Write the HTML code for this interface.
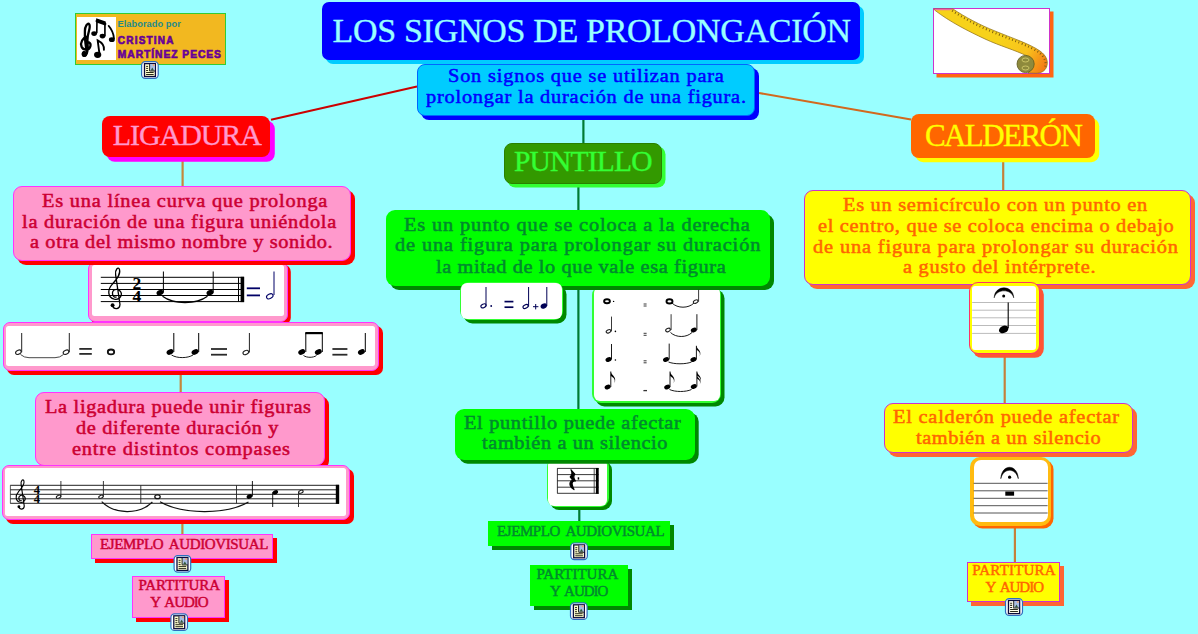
<!DOCTYPE html>
<html><head><meta charset="utf-8"><title>Los signos de prolongación</title>
<style>
html,body{margin:0;padding:0;}body{width:1198px;height:634px;background:#99FFFF;position:relative;overflow:hidden;font-family:'Liberation Serif', serif;}
.b{position:absolute;box-sizing:border-box;}
.t{position:absolute;white-space:pre;line-height:1;}
svg{position:absolute;left:0;top:0;}
</style></head><body>
<svg width="1198" height="634" style="z-index:1">
<line x1="417" y1="86.5" x2="271" y2="119.8" stroke="#CC0000" stroke-width="2"/>
<line x1="759" y1="93" x2="911" y2="119.6" stroke="#D2691E" stroke-width="2"/>
<line x1="583.4" y1="118" x2="583.4" y2="144" stroke="#007A33" stroke-width="2.2"/>
<line x1="578.4" y1="186" x2="578.4" y2="211" stroke="#007A33" stroke-width="2.2"/>
<line x1="578.4" y1="286" x2="578.4" y2="409" stroke="#007A33" stroke-width="2.2"/>
<line x1="579.3" y1="507" x2="579.3" y2="522" stroke="#007A33" stroke-width="2.2"/>
<line x1="182.6" y1="160" x2="182.6" y2="187" stroke="#C4883C" stroke-width="2.2"/>
<line x1="180.7" y1="370" x2="180.7" y2="393" stroke="#C4883C" stroke-width="2.2"/>
<line x1="182.4" y1="521" x2="182.4" y2="535" stroke="#C4883C" stroke-width="2.2"/>
<line x1="1003.2" y1="160" x2="1003.2" y2="190" stroke="#C4803A" stroke-width="2.2"/>
<line x1="1004.7" y1="356" x2="1004.7" y2="403" stroke="#C4803A" stroke-width="2.2"/>
<line x1="1014.9" y1="528" x2="1014.9" y2="562" stroke="#C4803A" stroke-width="2.2"/>
</svg>
<div class="b" id="title" style="left:322px;top:1.8px;width:538px;height:58.5px;background:#0000FF;border-radius:7px;box-shadow:4px 4px 0 #00CCFF;z-index:5"></div>
<div class="b" id="sub" style="left:417px;top:64px;width:338px;height:52px;background:#00CCFF;border:1px solid #0066FF;border-radius:8px;box-shadow:4px 4px 0 #0000FF;z-index:6"></div>
<div class="b" id="lig" style="left:102.3px;top:116px;width:168.2px;height:41px;background:#FF0000;border-radius:8px;box-shadow:4.8px 4.8px 0 #FF00FF;z-index:5"></div>
<div class="b" id="pun" style="left:504.3px;top:143.2px;width:157.7px;height:41.2px;background:#339900;border:1px solid #2A8000;border-radius:8px;box-shadow:3.5px 3.5px 0 #33FF33;z-index:5"></div>
<div class="b" id="cal" style="left:911px;top:113.5px;width:183.8px;height:44.5px;background:#FF6600;border-radius:8px;box-shadow:4.2px 4.2px 0 #FFFF00;z-index:5"></div>
<div class="b" id="pk1" style="left:13.4px;top:186.2px;width:337.8px;height:75.0px;background:#FF99CC;border:1px solid #FF33FF;border-radius:9px;box-shadow:4px 4px 0 #FF0000;z-index:5"></div>
<div class="b" id="gr1" style="left:386.2px;top:210px;width:383.8px;height:75.6px;background:#00FF00;border-radius:9px;box-shadow:4px 4px 0 #008800;z-index:5"></div>
<div class="b" id="ye1" style="left:803.7px;top:189.5px;width:387.8px;height:95.5px;background:#FFFF00;border:1px solid #CC33CC;border-radius:9px;box-shadow:4px 4px 0 #FF6633;z-index:5"></div>
<div class="b" id="pk2" style="left:34.8px;top:391.8px;width:290.2px;height:74.2px;background:#FF99CC;border:1px solid #FF33FF;border-radius:9px;box-shadow:4px 4px 0 #FF0000;z-index:5"></div>
<div class="b" id="gr2" style="left:455.3px;top:408.5px;width:239.4px;height:51.5px;background:#00FF00;border-radius:9px;box-shadow:3.7px 3.7px 0 #008800;z-index:7"></div>
<div class="b" id="ye2" style="left:883.6px;top:402.6px;width:249.4px;height:50.4px;background:#FFFF00;border:1px solid #CC33CC;border-radius:9px;box-shadow:4px 4px 0 #FF6633;z-index:5"></div>
<div class="b" id="pkE" style="left:91px;top:534px;width:181.7px;height:25px;background:#FF99CC;border:1px solid #FF33FF;border-radius:0px;box-shadow:4px 4px 0 #FF0000;z-index:5"></div>
<div class="b" id="pkP" style="left:132.3px;top:576px;width:93.2px;height:41.5px;background:#FF99CC;border:1px solid #FF33FF;border-radius:0px;box-shadow:4px 4px 0 #FF0000;z-index:5"></div>
<div class="b" id="grE" style="left:488px;top:521.3px;width:182px;height:25.0px;background:#00FF00;border-radius:0px;box-shadow:4px 4px 0 #008800;z-index:5"></div>
<div class="b" id="grP" style="left:530.2px;top:565px;width:97.6px;height:41.4px;background:#00FF00;border-radius:0px;box-shadow:4px 4px 0 #008800;z-index:5"></div>
<div class="b" id="yeP" style="left:967px;top:561.6px;width:93.3px;height:40.8px;background:#FFFF00;border:1px solid #CC33CC;border-radius:0px;box-shadow:4px 4px 0 #FF6633;z-index:5"></div>
<div class="b" style="left:88.3px;top:262px;width:199.9px;height:59.8px;background:#FF99CC;border:1px solid #FF33FF;border-radius:7px;box-shadow:2.8px 2.8px 0 #FF0000;z-index:4"></div>
<div class="b" style="left:91.8px;top:265.4px;width:191.8px;height:51.1px;background:#fff;border-radius:2.5px;z-index:4"></div>
<div class="b" style="left:2.5px;top:322.2px;width:376.5px;height:48.6px;background:#FF99CC;border:1px solid #FF33FF;border-radius:7px;box-shadow:4px 4px 0 #FF0000;z-index:6"></div>
<div class="b" style="left:5.8px;top:325.5px;width:369.7px;height:40.5px;background:#fff;border-radius:2.5px;z-index:6"></div>
<div class="b" style="left:1.5px;top:464.5px;width:348.0px;height:55.7px;background:#FF99CC;border:1px solid #FF33FF;border-radius:7px;box-shadow:4px 4px 0 #FF0000;z-index:6"></div>
<div class="b" style="left:4.8px;top:467.8px;width:341.2px;height:48.2px;background:#fff;border-radius:2.5px;z-index:6"></div>
<div class="b" style="left:459.8px;top:282.2px;width:103.2px;height:37.8px;background:#33FF33;border-radius:9px;box-shadow:3.5px 3.5px 0 #008800;z-index:6"></div>
<div class="b" style="left:461px;top:283.3px;width:100.8px;height:35.5px;background:#fff;border-radius:6px;z-index:6"></div>
<div class="b" style="left:592.2px;top:286px;width:128.8px;height:116.5px;background:#33FF33;border-radius:9px;box-shadow:3.5px 3.5px 0 #008800;z-index:4"></div>
<div class="b" style="left:593.7px;top:287px;width:126.1px;height:114px;background:#fff;border-radius:6px;z-index:4"></div>
<div class="b" style="left:547px;top:458px;width:61.5px;height:48.8px;background:#33FF33;border-radius:9px;box-shadow:3px 3px 0 #008800;z-index:4"></div>
<div class="b" style="left:548.2px;top:458.7px;width:59.2px;height:47.0px;background:#fff;border-radius:6px;z-index:4"></div>
<div class="b" style="left:968.6px;top:282px;width:71.6px;height:72.2px;background:#FFFF00;border:1px solid #FF3366;border-radius:9px;box-shadow:3.8px 3.8px 0 #FF5533;z-index:6"></div>
<div class="b" style="left:972.2px;top:286.2px;width:64.0px;height:64.0px;background:#fff;border-radius:3px;z-index:6"></div>
<div class="b" style="left:970px;top:456.5px;width:81.3px;height:69.9px;background:#FFBB11;border-radius:10px;box-shadow:2.5px 2.5px 0 #FF6600;z-index:6"></div>
<div class="b" style="left:973.6px;top:460.4px;width:74.0px;height:62.1px;background:#fff;border-radius:7px;z-index:6"></div>
<div class="b" style="left:933px;top:8px;width:117px;height:66px;background:#fff;border:1px solid #CC33CC;box-shadow:3.5px 3.5px 0 #FF6611;z-index:4"></div>
<div class="b" style="left:75.3px;top:13.3px;width:150.3px;height:52.2px;background:#F2B820;border:1px solid #33CC33;z-index:4"></div>
<div class="b" style="left:77.3px;top:17.3px;width:38.7px;height:42.7px;background:#fff;z-index:4"></div>
<svg width="1198" height="634" style="z-index:10">
<line x1="100.8" y1="277.3" x2="244" y2="277.3" stroke="#000" stroke-width="1"/>
<line x1="100.8" y1="283.4" x2="244" y2="283.4" stroke="#000" stroke-width="1"/>
<line x1="100.8" y1="289.5" x2="244" y2="289.5" stroke="#000" stroke-width="1"/>
<line x1="100.8" y1="295.5" x2="244" y2="295.5" stroke="#000" stroke-width="1"/>
<line x1="100.8" y1="301.6" x2="244" y2="301.6" stroke="#000" stroke-width="1"/>
<g transform="translate(106.5 267) scale(0.435)" fill="none" stroke="#000" stroke-width="2.9885057471264367" stroke-linecap="round"><path d="M14 88 C16 98 30 99 31 86 L21 18 C19 6 27 -2 30 6 C33 18 22 30 13 40 C2 52 2 70 18 74 C32 77 38 62 31 55 C24 48 12 52 14 63 C15 68 19 70 22 69"/><circle cx="14" cy="88" r="4.5" fill="#000" stroke="none"/></g>
<text x="136.8" y="289.4" font-family="Liberation Serif" font-weight="bold" font-size="17.5" fill="#000" text-anchor="middle">2</text>
<text x="136.8" y="301.6" font-family="Liberation Serif" font-weight="bold" font-size="17.5" fill="#000" text-anchor="middle">4</text>
<ellipse cx="160" cy="292.7" rx="3.6" ry="2.6" fill="#000" transform="rotate(-25 160 292.7)"/>
<line x1="163.4" y1="271.5" x2="163.4" y2="292.7" stroke="#000" stroke-width="1"/>
<ellipse cx="210" cy="292.7" rx="3.6" ry="2.6" fill="#000" transform="rotate(-25 210 292.7)"/>
<line x1="213.2" y1="271.5" x2="213.2" y2="292.7" stroke="#000" stroke-width="1"/>
<path d="M162.5 296.3 C173.75 304.67900000000003 196.25 304.67900000000003 207.5 296.3" fill="none" stroke="#000" stroke-width="1.2"/>
<line x1="238.5" y1="277.3" x2="238.5" y2="301.6" stroke="#000" stroke-width="1"/>
<rect x="240.6" y="276.8" width="3.6" height="25.3" fill="#000"/>
<line x1="246.8" y1="288.3" x2="260" y2="288.3" stroke="#000066" stroke-width="1.8"/>
<line x1="246.8" y1="295.4" x2="260" y2="295.4" stroke="#000066" stroke-width="1.8"/>
<ellipse cx="269.8" cy="296.3" rx="3.45" ry="2.25" fill="none" stroke="#000066" stroke-width="1.1" transform="rotate(-25 269.8 296.3)"/>
<line x1="274" y1="271.5" x2="274" y2="295" stroke="#000066" stroke-width="1"/>
<ellipse cx="18.4" cy="352.2" rx="2.95" ry="1.95" fill="none" stroke="#222" stroke-width="1.1" transform="rotate(-25 18.4 352.2)"/>
<line x1="21.7" y1="333" x2="21.7" y2="352.2" stroke="#222" stroke-width="1"/>
<ellipse cx="66" cy="352.2" rx="2.95" ry="1.95" fill="none" stroke="#222" stroke-width="1.1" transform="rotate(-25 66 352.2)"/>
<line x1="69.3" y1="333" x2="69.3" y2="352.2" stroke="#222" stroke-width="1"/>
<path d="M20.5 354.5 Q24 357.7 29 357.7 L55 357.7 Q60 357.7 63.5 354.5" fill="none" stroke="#333" stroke-width="0.9"/>
<line x1="79.3" y1="348.9" x2="91.8" y2="348.9" stroke="#2A2A2A" stroke-width="1.8"/>
<line x1="79.3" y1="353.9" x2="91.8" y2="353.9" stroke="#2A2A2A" stroke-width="1.8"/>
<ellipse cx="111" cy="351.9" rx="3.2" ry="2.4" fill="none" stroke="#111" stroke-width="1.8"/>
<ellipse cx="170" cy="352" rx="3.6" ry="2.6" fill="#000" transform="rotate(-25 170 352)"/>
<line x1="173.8" y1="333" x2="173.8" y2="352" stroke="#000" stroke-width="1"/>
<ellipse cx="195" cy="352" rx="3.6" ry="2.6" fill="#000" transform="rotate(-25 195 352)"/>
<line x1="198.7" y1="333" x2="198.7" y2="352" stroke="#000" stroke-width="1"/>
<path d="M171.5 355 C176.875 358.458 187.625 358.458 193 355" fill="none" stroke="#000" stroke-width="0.9"/>
<line x1="211" y1="349" x2="227" y2="349" stroke="#2A2A2A" stroke-width="1.8"/>
<line x1="211" y1="354.7" x2="227" y2="354.7" stroke="#2A2A2A" stroke-width="1.8"/>
<ellipse cx="245.8" cy="352.5" rx="2.95" ry="1.95" fill="none" stroke="#222" stroke-width="1.1" transform="rotate(-25 245.8 352.5)"/>
<line x1="249.4" y1="333" x2="249.4" y2="352.5" stroke="#222" stroke-width="1"/>
<ellipse cx="301.7" cy="352" rx="3.6" ry="2.6" fill="#000" transform="rotate(-25 301.7 352)"/>
<line x1="305.8" y1="333" x2="305.8" y2="352" stroke="#000" stroke-width="1"/>
<ellipse cx="318.3" cy="352" rx="3.6" ry="2.6" fill="#000" transform="rotate(-25 318.3 352)"/>
<line x1="322.3" y1="333" x2="322.3" y2="352" stroke="#000" stroke-width="1"/>
<rect x="305.3" y="332" width="17.5" height="2.2" fill="#000"/>
<path d="M303.5 355.5 C306.75 357.894 313.25 357.894 316.5 355.5" fill="none" stroke="#000" stroke-width="0.9"/>
<line x1="332.4" y1="349" x2="347.4" y2="349" stroke="#2A2A2A" stroke-width="1.8"/>
<line x1="332.4" y1="354.7" x2="347.4" y2="354.7" stroke="#2A2A2A" stroke-width="1.8"/>
<ellipse cx="361.4" cy="352" rx="3.6" ry="2.6" fill="#000" transform="rotate(-25 361.4 352)"/>
<line x1="365.3" y1="333" x2="365.3" y2="352" stroke="#000" stroke-width="1"/>
<line x1="10.2" y1="485.3" x2="339" y2="485.3" stroke="#222" stroke-width="1"/>
<line x1="10.2" y1="489.8" x2="339" y2="489.8" stroke="#222" stroke-width="1"/>
<line x1="10.2" y1="494.3" x2="339" y2="494.3" stroke="#222" stroke-width="1"/>
<line x1="10.2" y1="498.8" x2="339" y2="498.8" stroke="#222" stroke-width="1"/>
<line x1="10.2" y1="503.3" x2="339" y2="503.3" stroke="#222" stroke-width="1"/>
<line x1="10.4" y1="485.3" x2="10.4" y2="503.3" stroke="#333" stroke-width="0.8"/>
<g transform="translate(14.5 479) scale(0.315)" fill="none" stroke="#000" stroke-width="3.4920634920634925" stroke-linecap="round"><path d="M14 88 C16 98 30 99 31 86 L21 18 C19 6 27 -2 30 6 C33 18 22 30 13 40 C2 52 2 70 18 74 C32 77 38 62 31 55 C24 48 12 52 14 63 C15 68 19 70 22 69"/><circle cx="14" cy="88" r="4.5" fill="#000" stroke="none"/></g>
<text x="36.8" y="494.2" font-family="Liberation Serif" font-weight="bold" font-size="12.5" fill="#000" text-anchor="middle">4</text>
<text x="36.8" y="503.2" font-family="Liberation Serif" font-weight="bold" font-size="12.5" fill="#000" text-anchor="middle">4</text>
<ellipse cx="58.6" cy="496.8" rx="2.3499999999999996" ry="1.45" fill="none" stroke="#222" stroke-width="1.1" transform="rotate(-25 58.6 496.8)"/>
<line x1="60.9" y1="481" x2="60.9" y2="496.8" stroke="#222" stroke-width="0.9"/>
<ellipse cx="101" cy="496.8" rx="2.3499999999999996" ry="1.45" fill="none" stroke="#222" stroke-width="1.1" transform="rotate(-25 101 496.8)"/>
<line x1="103.4" y1="481" x2="103.4" y2="496.8" stroke="#222" stroke-width="0.9"/>
<line x1="140.8" y1="485.3" x2="140.8" y2="503.3" stroke="#222" stroke-width="0.9"/>
<ellipse cx="157.5" cy="496.8" rx="2.7" ry="1.9" fill="none" stroke="#111" stroke-width="1.3"/>
<path d="M101.7 501.7 C114.375 514.601 139.72500000000002 514.901 152.4 502" fill="none" stroke="#111" stroke-width="1.2"/>
<path d="M160 501.7 C182.125 514.601 226.375 514.901 248.5 502" fill="none" stroke="#111" stroke-width="1.2"/>
<line x1="236.5" y1="485.3" x2="236.5" y2="503.3" stroke="#222" stroke-width="0.9"/>
<ellipse cx="249.4" cy="496.5" rx="2.9" ry="2.1" fill="#000" transform="rotate(-25 249.4 496.5)"/>
<line x1="252.4" y1="481" x2="252.4" y2="496.5" stroke="#000" stroke-width="0.9"/>
<ellipse cx="275.3" cy="492.3" rx="2.9" ry="2.1" fill="#000" transform="rotate(-25 275.3 492.3)"/>
<line x1="272.7" y1="492.3" x2="272.7" y2="507" stroke="#000" stroke-width="0.9"/>
<ellipse cx="300.9" cy="491.8" rx="2.3499999999999996" ry="1.45" fill="none" stroke="#222" stroke-width="1.1" transform="rotate(-25 300.9 491.8)"/>
<line x1="298.5" y1="492" x2="298.5" y2="507" stroke="#222" stroke-width="0.9"/>
<rect x="335.8" y="484.8" width="3.4" height="19" fill="#000"/>
<ellipse cx="483.5" cy="305.8" rx="2.75" ry="1.7499999999999998" fill="none" stroke="#000055" stroke-width="1.1" transform="rotate(-25 483.5 305.8)"/>
<line x1="486" y1="287" x2="486" y2="305.8" stroke="#000055" stroke-width="1"/>
<circle cx="491.2" cy="306" r="0.9" fill="#000055"/>
<line x1="504.5" y1="301.6" x2="513.4" y2="301.6" stroke="#000055" stroke-width="1.7"/>
<line x1="504.5" y1="307.2" x2="513.4" y2="307.2" stroke="#000055" stroke-width="1.7"/>
<ellipse cx="525.6" cy="306.5" rx="2.75" ry="1.7499999999999998" fill="none" stroke="#000055" stroke-width="1.1" transform="rotate(-25 525.6 306.5)"/>
<line x1="528.6" y1="287" x2="528.6" y2="306.5" stroke="#000055" stroke-width="1"/>
<line x1="533" y1="306.7" x2="538.4" y2="306.7" stroke="#000055" stroke-width="1"/>
<line x1="535.7" y1="304" x2="535.7" y2="309.4" stroke="#000055" stroke-width="1"/>
<ellipse cx="543.8" cy="306" rx="3.3" ry="2.6" fill="#000055" transform="rotate(-25 543.8 306)"/>
<line x1="546.8" y1="287" x2="546.8" y2="306" stroke="#000055" stroke-width="1"/>
<ellipse cx="607" cy="301.2" rx="2.9" ry="2" fill="none" stroke="#000" stroke-width="1.9"/>
<circle cx="613.6" cy="301.4" r="0.7" fill="#000"/>
<line x1="643.6" y1="304" x2="646.6" y2="304" stroke="#222" stroke-width="0.9"/>
<line x1="643.6" y1="306" x2="646.6" y2="306" stroke="#222" stroke-width="0.9"/>
<ellipse cx="669.5" cy="301.4" rx="3" ry="2.1" fill="none" stroke="#000" stroke-width="1.9"/>
<path d="M672 303 C677.5 308.586 688.5 308.586 694 303" fill="none" stroke="#000" stroke-width="0.9"/>
<ellipse cx="695.7" cy="301.6" rx="2.45" ry="1.55" fill="none" stroke="#222" stroke-width="1.1" transform="rotate(-25 695.7 301.6)"/>
<line x1="698.6" y1="289.7" x2="698.6" y2="301.6" stroke="#222" stroke-width="0.9"/>
<ellipse cx="608.5" cy="331.3" rx="2.45" ry="1.55" fill="none" stroke="#222" stroke-width="1.1" transform="rotate(-25 608.5 331.3)"/>
<line x1="611.5" y1="316.6" x2="611.5" y2="331.3" stroke="#222" stroke-width="0.9"/>
<circle cx="615.4" cy="331.4" r="0.8" fill="#000"/>
<line x1="643.6" y1="333.3" x2="646.6" y2="333.3" stroke="#222" stroke-width="0.9"/>
<line x1="643.6" y1="335.3" x2="646.6" y2="335.3" stroke="#222" stroke-width="0.9"/>
<ellipse cx="668" cy="330" rx="2.45" ry="1.55" fill="none" stroke="#222" stroke-width="1.1" transform="rotate(-25 668 330)"/>
<line x1="671.1" y1="314.2" x2="671.1" y2="330" stroke="#222" stroke-width="0.9"/>
<path d="M670.5 332.5 C675.875 337.82 686.625 337.82 692 332.5" fill="none" stroke="#000" stroke-width="0.9"/>
<ellipse cx="693.8" cy="330" rx="3.1" ry="2.3" fill="#000" transform="rotate(-25 693.8 330)"/>
<line x1="696.9" y1="314.2" x2="696.9" y2="330" stroke="#000" stroke-width="0.9"/>
<ellipse cx="608.5" cy="359.5" rx="3.1" ry="2.3" fill="#000" transform="rotate(-25 608.5 359.5)"/>
<line x1="611.5" y1="344" x2="611.5" y2="359.5" stroke="#000" stroke-width="0.9"/>
<circle cx="615.4" cy="360" r="0.8" fill="#000"/>
<line x1="643.6" y1="360.8" x2="646.6" y2="360.8" stroke="#222" stroke-width="0.9"/>
<line x1="643.6" y1="362.8" x2="646.6" y2="362.8" stroke="#222" stroke-width="0.9"/>
<ellipse cx="666" cy="359.5" rx="3.1" ry="2.3" fill="#000" transform="rotate(-25 666 359.5)"/>
<line x1="669.2" y1="343.6" x2="669.2" y2="359.5" stroke="#000" stroke-width="0.9"/>
<path d="M668.5 362 C674.25 364.394 685.75 364.394 691.5 362" fill="none" stroke="#000" stroke-width="0.9"/>
<ellipse cx="693.4" cy="359.5" rx="3.1" ry="2.3" fill="#000" transform="rotate(-25 693.4 359.5)"/>
<line x1="696.4" y1="345.8" x2="696.4" y2="359.5" stroke="#000" stroke-width="0.9"/>
<path d="M696.4 345.8 c0.54 3.7800000000000002 5.9399999999999995 4.680000000000001 3.24 10.8 c1.26 -4.32 -1.08 -5.4 -3.24 -6.84 z" fill="#000"/>
<ellipse cx="607.6" cy="387" rx="3.1" ry="2.3" fill="#000" transform="rotate(-25 607.6 387)"/>
<line x1="610.8" y1="371.5" x2="610.8" y2="387" stroke="#000" stroke-width="0.9"/>
<path d="M610.8 371.5 c0.6 4.2 6.6 5.2 3.6 12.0 c1.4 -4.8 -1.2 -6.0 -3.6 -7.6 z" fill="#000"/>
<line x1="643.4" y1="390.6" x2="647" y2="390.6" stroke="#333" stroke-width="1.3"/>
<ellipse cx="667.2" cy="387" rx="3.1" ry="2.3" fill="#000" transform="rotate(-25 667.2 387)"/>
<line x1="670" y1="371.5" x2="670" y2="387" stroke="#000" stroke-width="0.9"/>
<path d="M670 371.5 c0.6 4.2 6.6 5.2 3.6 12.0 c1.4 -4.8 -1.2 -6.0 -3.6 -7.6 z" fill="#000"/>
<path d="M669.5 389.5 C675.0 392.16 686.0 392.16 691.5 389.5" fill="none" stroke="#000" stroke-width="0.9"/>
<ellipse cx="693.8" cy="386.5" rx="3.1" ry="2.3" fill="#000" transform="rotate(-25 693.8 386.5)"/>
<line x1="696.9" y1="371.5" x2="696.9" y2="386.5" stroke="#000" stroke-width="0.9"/>
<path d="M696.9 371.5 c0.54 3.7800000000000002 5.9399999999999995 4.680000000000001 3.24 10.8 c1.26 -4.32 -1.08 -5.4 -3.24 -6.84 z" fill="#000"/>
<path d="M696.9 375 c0.48 3.3600000000000003 5.28 4.16 2.8800000000000003 9.600000000000001 c1.1199999999999999 -3.84 -0.96 -4.800000000000001 -2.8800000000000003 -6.08 z" fill="#000"/>
<line x1="557.2" y1="468.4" x2="598.6" y2="468.4" stroke="#222" stroke-width="0.9"/>
<line x1="557.2" y1="474.6" x2="598.6" y2="474.6" stroke="#222" stroke-width="0.9"/>
<line x1="557.2" y1="480.8" x2="598.6" y2="480.8" stroke="#222" stroke-width="0.9"/>
<line x1="557.2" y1="487.2" x2="598.6" y2="487.2" stroke="#222" stroke-width="0.9"/>
<line x1="557.2" y1="493.3" x2="598.6" y2="493.3" stroke="#222" stroke-width="0.9"/>
<line x1="557.4" y1="468.4" x2="557.4" y2="493.3" stroke="#222" stroke-width="0.9"/>
<line x1="594.2" y1="468.4" x2="594.2" y2="493.3" stroke="#222" stroke-width="0.8"/>
<rect x="595.9" y="468" width="2.8" height="25.8" fill="#000"/>
<path d="M571.0 469.8 L574.8 474.2 C573.2 476.2 573.2 478 575.4 481 C573 480.6 571.6 482.2 572.2 484.6 C572.6 486.4 573.2 487.8 574 489.6 C571 487.6 569.2 484.8 570.2 482.4 C570.9 480.8 572.2 480.4 573.2 480.8 L570.2 477 C572.4 474.8 572.6 472.8 571 469.8 Z" fill="#000" stroke="#000" stroke-width="1.2" stroke-linejoin="round"/>
<rect x="577.7" y="477.3" width="1.5" height="2.3" fill="#000"/>
<line x1="972.2" y1="302.5" x2="1036.2" y2="302.5" stroke="#BBB" stroke-width="1"/>
<line x1="972.2" y1="310.2" x2="1036.2" y2="310.2" stroke="#BBB" stroke-width="1"/>
<line x1="972.2" y1="317.8" x2="1036.2" y2="317.8" stroke="#BBB" stroke-width="1"/>
<line x1="972.2" y1="325.5" x2="1036.2" y2="325.5" stroke="#BBB" stroke-width="1"/>
<line x1="972.2" y1="333.4" x2="1036.2" y2="333.4" stroke="#BBB" stroke-width="1"/>
<path d="M994.2 297.8 C994.6 284.5 1013.3 284.5 1013.7 297.8 C1011.5 288.5 996.4 288.5 994.2 297.8 Z" fill="#000" stroke="#000" stroke-width="0.5"/>
<circle cx="1003.7" cy="295.9" r="1.5" fill="#000"/>
<ellipse cx="1003.7" cy="329.4" rx="5" ry="3.5" fill="#000" transform="rotate(-25 1003.7 329.4)"/>
<line x1="1008.2" y1="302.5" x2="1008.2" y2="328" stroke="#000" stroke-width="1.1"/>
<line x1="973.6" y1="483.3" x2="1047.6" y2="483.3" stroke="#555" stroke-width="1"/>
<line x1="973.6" y1="490.8" x2="1047.6" y2="490.8" stroke="#555" stroke-width="1"/>
<line x1="973.6" y1="498.3" x2="1047.6" y2="498.3" stroke="#555" stroke-width="1"/>
<line x1="973.6" y1="505.7" x2="1047.6" y2="505.7" stroke="#555" stroke-width="1"/>
<line x1="973.6" y1="513" x2="1047.6" y2="513" stroke="#555" stroke-width="1"/>
<path d="M1000.8 478.7 C1001.5 463.5 1017.6 463.5 1018.3 478.7 C1015.5 467.5 1003.6 467.5 1000.8 478.7 Z" fill="#000" stroke="#000" stroke-width="0.5"/>
<circle cx="1009.6" cy="477.2" r="1.6" fill="#000"/>
<rect x="1005.3" y="491.5" width="8.8" height="4.2" fill="#000"/>
<g transform="translate(141.1 61.2) scale(1.0)"><rect x="0.5" y="0.5" width="16.6" height="16.6" rx="3.6" fill="#fff" stroke="#2F6FBF" stroke-width="1.2"/><rect x="3.4" y="2.4" width="10.9" height="12.9" fill="#FFFFD0" stroke="#0A0A3C" stroke-width="1.3"/><rect x="8.9" y="2.9" width="4.9" height="6.3" fill="#A9BDE3"/><path d="M9.6 9.2 L11.2 6.4 L12.9 9.2 Z" fill="#2F5A3A"/><rect x="11.6" y="3.1" width="1.8" height="1.6" fill="#F0A070"/><path d="M8.5 2.9 V9.8 H13.9" fill="none" stroke="#222" stroke-width="1"/><path d="M5 5.2 H7 M5 7.2 H7 M5 9.3 H7 M5 11.3 H12.6 M5 13.3 H12.6" fill="none" stroke="#2A2A1A" stroke-width="1"/></g>
<g transform="translate(173.6 555.1) scale(1.0)"><rect x="0.5" y="0.5" width="16.6" height="16.6" rx="3.6" fill="#fff" stroke="#2F6FBF" stroke-width="1.2"/><rect x="3.4" y="2.4" width="10.9" height="12.9" fill="#FFFFD0" stroke="#0A0A3C" stroke-width="1.3"/><rect x="8.9" y="2.9" width="4.9" height="6.3" fill="#A9BDE3"/><path d="M9.6 9.2 L11.2 6.4 L12.9 9.2 Z" fill="#2F5A3A"/><rect x="11.6" y="3.1" width="1.8" height="1.6" fill="#F0A070"/><path d="M8.5 2.9 V9.8 H13.9" fill="none" stroke="#222" stroke-width="1"/><path d="M5 5.2 H7 M5 7.2 H7 M5 9.3 H7 M5 11.3 H12.6 M5 13.3 H12.6" fill="none" stroke="#2A2A1A" stroke-width="1"/></g>
<g transform="translate(170.4 613.4) scale(1.0)"><rect x="0.5" y="0.5" width="16.6" height="16.6" rx="3.6" fill="#fff" stroke="#2F6FBF" stroke-width="1.2"/><rect x="3.4" y="2.4" width="10.9" height="12.9" fill="#FFFFD0" stroke="#0A0A3C" stroke-width="1.3"/><rect x="8.9" y="2.9" width="4.9" height="6.3" fill="#A9BDE3"/><path d="M9.6 9.2 L11.2 6.4 L12.9 9.2 Z" fill="#2F5A3A"/><rect x="11.6" y="3.1" width="1.8" height="1.6" fill="#F0A070"/><path d="M8.5 2.9 V9.8 H13.9" fill="none" stroke="#222" stroke-width="1"/><path d="M5 5.2 H7 M5 7.2 H7 M5 9.3 H7 M5 11.3 H12.6 M5 13.3 H12.6" fill="none" stroke="#2A2A1A" stroke-width="1"/></g>
<g transform="translate(570.3 542.5) scale(1.0)"><rect x="0.5" y="0.5" width="16.6" height="16.6" rx="3.6" fill="#fff" stroke="#2F6FBF" stroke-width="1.2"/><rect x="3.4" y="2.4" width="10.9" height="12.9" fill="#FFFFD0" stroke="#0A0A3C" stroke-width="1.3"/><rect x="8.9" y="2.9" width="4.9" height="6.3" fill="#A9BDE3"/><path d="M9.6 9.2 L11.2 6.4 L12.9 9.2 Z" fill="#2F5A3A"/><rect x="11.6" y="3.1" width="1.8" height="1.6" fill="#F0A070"/><path d="M8.5 2.9 V9.8 H13.9" fill="none" stroke="#222" stroke-width="1"/><path d="M5 5.2 H7 M5 7.2 H7 M5 9.3 H7 M5 11.3 H12.6 M5 13.3 H12.6" fill="none" stroke="#2A2A1A" stroke-width="1"/></g>
<g transform="translate(570 602.4) scale(1.0)"><rect x="0.5" y="0.5" width="16.6" height="16.6" rx="3.6" fill="#fff" stroke="#2F6FBF" stroke-width="1.2"/><rect x="3.4" y="2.4" width="10.9" height="12.9" fill="#FFFFD0" stroke="#0A0A3C" stroke-width="1.3"/><rect x="8.9" y="2.9" width="4.9" height="6.3" fill="#A9BDE3"/><path d="M9.6 9.2 L11.2 6.4 L12.9 9.2 Z" fill="#2F5A3A"/><rect x="11.6" y="3.1" width="1.8" height="1.6" fill="#F0A070"/><path d="M8.5 2.9 V9.8 H13.9" fill="none" stroke="#222" stroke-width="1"/><path d="M5 5.2 H7 M5 7.2 H7 M5 9.3 H7 M5 11.3 H12.6 M5 13.3 H12.6" fill="none" stroke="#2A2A1A" stroke-width="1"/></g>
<g transform="translate(1005 598) scale(1.0227272727272727)"><rect x="0.5" y="0.5" width="16.6" height="16.6" rx="3.6" fill="#fff" stroke="#2F6FBF" stroke-width="1.2"/><rect x="3.4" y="2.4" width="10.9" height="12.9" fill="#FFFFEE" stroke="#0A0A3C" stroke-width="1.3"/><rect x="8.9" y="2.9" width="4.9" height="6.3" fill="#A9BDE3"/><path d="M9.6 9.2 L11.2 6.4 L12.9 9.2 Z" fill="#2F5A3A"/><rect x="11.6" y="3.1" width="1.8" height="1.6" fill="#F0A070"/><path d="M8.5 2.9 V9.8 H13.9" fill="none" stroke="#222" stroke-width="1"/><path d="M5 5.2 H7 M5 7.2 H7 M5 9.3 H7 M5 11.3 H12.6 M5 13.3 H12.6" fill="none" stroke="#2A2A1A" stroke-width="1"/></g>
<g transform="translate(97 39.5) scale(1.1 1.12) translate(-97 -39.5)">
<g fill="none" stroke="#000" stroke-linecap="round"><path d="M86.8 53.5 C84.5 55.5 83 52.5 85 50.8 M86.8 53.5 C89.5 51 88.5 45 88.3 40 C88 34 91.8 29 90 26 C88.5 24 86 28 86 32 C85.8 38 86.5 44 87.6 50 M88 37 C84 38 81.5 42 83 46 C84.5 49.5 90 49.5 91 45.5 C91.8 42 88 40.5 86.5 43" stroke-width="2.1"/><path d="M96.8 33.5 L97 21.5 L104.2 24 L104.2 36" stroke-width="1.5"/><path d="M97 23 L104.2 25.6" stroke-width="2.6"/><path d="M107.6 27.3 C110 30 112 33 112.4 38.5" stroke-width="1.6"/><path d="M99.2 52 L97.6 40.3 C100 41.5 104 43.5 103.3 48.8" stroke-width="1.7"/></g>
<ellipse cx="94.4" cy="34.2" rx="2.6" ry="2.1" fill="#000"/>
<ellipse cx="102" cy="36.4" rx="2.6" ry="2.1" fill="#000"/>
<ellipse cx="110.5" cy="39.7" rx="2.7" ry="2.1" fill="#000"/>
<ellipse cx="97.6" cy="53.2" rx="3.3" ry="2.8" fill="#000"/>
<ellipse cx="85.6" cy="52.4" rx="2.2" ry="2.6" fill="#000"/>
</g>
<defs><linearGradient id="tg" gradientUnits="userSpaceOnUse" x1="1000" y1="40" x2="1046" y2="66"><stop offset="0" stop-color="#F7D21A"/><stop offset="0.55" stop-color="#F9C21C"/><stop offset="1" stop-color="#F47A14"/></linearGradient></defs>
<path d="M934 9 L953 9 C965 17 980 25 995 31 C1012 38 1030 44 1040 51 C1047 56 1048.5 62 1046.5 67 C1045 71 1041 73.3 1036 73.3 L1028 73 C1033 68 1034 60 1027 56 C1015 50 1000 46 985 39 C968 31 950 22 934.5 10 Z" fill="url(#tg)" stroke="#8A6A10" stroke-width="0.7"/>
<path d="M953 9.5 C965 17.5 980 25.5 995 31.5 C1012 38.5 1030 44.5 1040 51.5 C1046 56 1047.5 62 1045.5 67" fill="none" stroke="#7A5A10" stroke-width="2.2" stroke-dasharray="0.9 2.6" transform="translate(-0.8 1.1)"/>
<circle cx="1025.6" cy="64" r="8.6" fill="#8E8A3C" stroke="#5E5A20" stroke-width="0.8"/>
<path d="M1022 60 a3.5 2 0 1 0 7 0 a3.5 2 0 1 0 -7 0 M1022 68 a3.5 2 0 1 0 7 0 a3.5 2 0 1 0 -7 0" fill="none" stroke="#D8D070" stroke-width="0.8"/>
<path d="M934 9 L953 9 L950 10.3 L936 10.3 Z" fill="#F06AA0"/>
</svg>

<div class="t" style="left:332.5px;top:14.12px;font-size:34px;color:#99FFFF;letter-spacing:-0.304px;-webkit-text-stroke:0.35px currentColor;z-index:20">LOS SIGNOS DE PROLONGACIÓN</div>
<div class="t" style="left:447.7px;top:67.22px;font-size:18px;color:#0000FF;letter-spacing:0.723px;transform:scaleX(1.13);transform-origin:0 0;-webkit-text-stroke:0.5px currentColor;z-index:20">Son signos que se utilizan para</div>
<div class="t" style="left:426.4px;top:88.22px;font-size:18px;color:#0000FF;letter-spacing:0.694px;transform:scaleX(1.13);transform-origin:0 0;-webkit-text-stroke:0.5px currentColor;z-index:20">prolongar la duración de una figura.</div>
<div class="t" style="left:112.7px;top:119.88px;font-size:30px;color:#FF99CC;letter-spacing:-1.051px;-webkit-text-stroke:0.35px currentColor;z-index:20">LIGADURA</div>
<div class="t" style="left:514px;top:147.09px;font-size:29.5px;color:#33FF33;letter-spacing:-0.8px;-webkit-text-stroke:0.35px currentColor;z-index:20">PUNTILLO</div>
<div class="t" style="left:924.9px;top:119.84px;font-size:31px;color:#FFFF00;letter-spacing:-1.554px;-webkit-text-stroke:0.35px currentColor;z-index:20">CALDERÓN</div>
<div class="t" style="left:41.6px;top:191.73px;font-size:18px;color:#CC0033;letter-spacing:0.705px;transform:scaleX(1.13);transform-origin:0 0;-webkit-text-stroke:0.5px currentColor;z-index:20">Es una línea curva que prolonga</div>
<div class="t" style="left:22px;top:212.62px;font-size:18px;color:#CC0033;letter-spacing:0.669px;transform:scaleX(1.13);transform-origin:0 0;-webkit-text-stroke:0.5px currentColor;z-index:20">la duración de una figura uniéndola</div>
<div class="t" style="left:30.3px;top:233.33px;font-size:18px;color:#CC0033;letter-spacing:0.544px;transform:scaleX(1.13);transform-origin:0 0;-webkit-text-stroke:0.5px currentColor;z-index:20">a otra del mismo nombre y sonido.</div>
<div class="t" style="left:404.4px;top:215.53px;font-size:18px;color:#008A2E;letter-spacing:0.76px;transform:scaleX(1.13);transform-origin:0 0;-webkit-text-stroke:0.5px currentColor;z-index:20">Es un punto que se coloca a la derecha</div>
<div class="t" style="left:394.8px;top:236.43px;font-size:18px;color:#008A2E;letter-spacing:0.781px;transform:scaleX(1.13);transform-origin:0 0;-webkit-text-stroke:0.5px currentColor;z-index:20">de una figura para prolongar su duración</div>
<div class="t" style="left:436px;top:257.62px;font-size:18px;color:#008A2E;letter-spacing:0.544px;transform:scaleX(1.13);transform-origin:0 0;-webkit-text-stroke:0.5px currentColor;z-index:20">la mitad de lo que vale esa figura</div>
<div class="t" style="left:463.6px;top:413.53px;font-size:18px;color:#008A2E;letter-spacing:0.597px;transform:scaleX(1.13);transform-origin:0 0;-webkit-text-stroke:0.5px currentColor;z-index:20">El puntillo puede afectar</div>
<div class="t" style="left:482.2px;top:434.43px;font-size:18px;color:#008A2E;letter-spacing:0.535px;transform:scaleX(1.13);transform-origin:0 0;-webkit-text-stroke:0.5px currentColor;z-index:20">también a un silencio</div>
<div class="t" style="left:497px;top:524.44px;font-size:15px;color:#008A2E;letter-spacing:-0.416px;-webkit-text-stroke:0.45px currentColor;word-spacing:3px;z-index:20">EJEMPLO AUDIOVISUAL</div>
<div class="t" style="left:536.4px;top:567.44px;font-size:15px;color:#008A2E;letter-spacing:-0.001px;-webkit-text-stroke:0.45px currentColor;word-spacing:3px;z-index:20">PARTITURA</div>
<div class="t" style="left:550px;top:583.84px;font-size:15px;color:#008A2E;letter-spacing:-1.039px;-webkit-text-stroke:0.45px currentColor;word-spacing:3px;z-index:20">Y AUDIO</div>
<div class="t" style="left:45px;top:397.62px;font-size:18px;color:#CC0033;letter-spacing:0.603px;transform:scaleX(1.13);transform-origin:0 0;-webkit-text-stroke:0.5px currentColor;z-index:20">La ligadura puede unir figuras</div>
<div class="t" style="left:76px;top:418.93px;font-size:18px;color:#CC0033;letter-spacing:0.581px;transform:scaleX(1.13);transform-origin:0 0;-webkit-text-stroke:0.5px currentColor;z-index:20">de diferente duración y</div>
<div class="t" style="left:71.6px;top:439.93px;font-size:18px;color:#CC0033;letter-spacing:0.737px;transform:scaleX(1.13);transform-origin:0 0;-webkit-text-stroke:0.5px currentColor;z-index:20">entre distintos compases</div>
<div class="t" style="left:100px;top:537.44px;font-size:15px;color:#CC0033;letter-spacing:-0.372px;-webkit-text-stroke:0.45px currentColor;word-spacing:3px;z-index:20">EJEMPLO AUDIOVISUAL</div>
<div class="t" style="left:138.4px;top:577.94px;font-size:15px;color:#CC0033;letter-spacing:-0.038px;-webkit-text-stroke:0.45px currentColor;word-spacing:3px;z-index:20">PARTITURA</div>
<div class="t" style="left:150.2px;top:594.74px;font-size:15px;color:#CC0033;letter-spacing:-1.022px;-webkit-text-stroke:0.45px currentColor;word-spacing:3px;z-index:20">Y AUDIO</div>
<div class="t" style="left:843.3px;top:195.93px;font-size:18px;color:#FF6600;letter-spacing:0.633px;transform:scaleX(1.13);transform-origin:0 0;-webkit-text-stroke:0.5px currentColor;z-index:20">Es un semicírculo con un punto en</div>
<div class="t" style="left:817.5px;top:216.73px;font-size:18px;color:#FF6600;letter-spacing:0.615px;transform:scaleX(1.13);transform-origin:0 0;-webkit-text-stroke:0.5px currentColor;z-index:20">el centro, que se coloca encima o debajo</div>
<div class="t" style="left:813.4px;top:237.62px;font-size:18px;color:#FF6600;letter-spacing:0.772px;transform:scaleX(1.13);transform-origin:0 0;-webkit-text-stroke:0.5px currentColor;z-index:20">de una figura para prolongar su duración</div>
<div class="t" style="left:902.8px;top:258.23px;font-size:18px;color:#FF6600;letter-spacing:0.655px;transform:scaleX(1.13);transform-origin:0 0;-webkit-text-stroke:0.5px currentColor;z-index:20">a gusto del intérprete.</div>
<div class="t" style="left:893px;top:408.32px;font-size:18px;color:#FF6600;letter-spacing:0.692px;transform:scaleX(1.13);transform-origin:0 0;-webkit-text-stroke:0.5px currentColor;z-index:20">El calderón puede afectar</div>
<div class="t" style="left:916px;top:429.23px;font-size:18px;color:#FF6600;letter-spacing:0.495px;transform:scaleX(1.13);transform-origin:0 0;-webkit-text-stroke:0.5px currentColor;z-index:20">también a un silencio</div>
<div class="t" style="left:972.2px;top:562.94px;font-size:15px;color:#FF6600;letter-spacing:0.187px;-webkit-text-stroke:0.45px currentColor;word-spacing:3px;z-index:20">PARTITURA</div>
<div class="t" style="left:985.6px;top:580.14px;font-size:15px;color:#FF6600;letter-spacing:-1.022px;-webkit-text-stroke:0.45px currentColor;word-spacing:3px;z-index:20">Y AUDIO</div>
<div class="t" style="left:117.4px;top:19.73px;font-size:9.3px;color:#1F8A8A;letter-spacing:0.039px;font-family:'Liberation Sans', sans-serif;font-weight:bold;z-index:20">Elaborado por</div>
<div class="t" style="left:117.8px;top:36.14px;font-size:10px;color:#660099;letter-spacing:1.209px;font-family:'Liberation Sans', sans-serif;-webkit-text-stroke:0.6px currentColor;font-weight:bold;z-index:20">CRISTINA</div>
<div class="t" style="left:117.8px;top:50.08px;font-size:10.3px;color:#660099;letter-spacing:0.941px;font-family:'Liberation Sans', sans-serif;-webkit-text-stroke:0.6px currentColor;font-weight:bold;z-index:20">MARTÍNEZ PECES</div>
</body></html>
